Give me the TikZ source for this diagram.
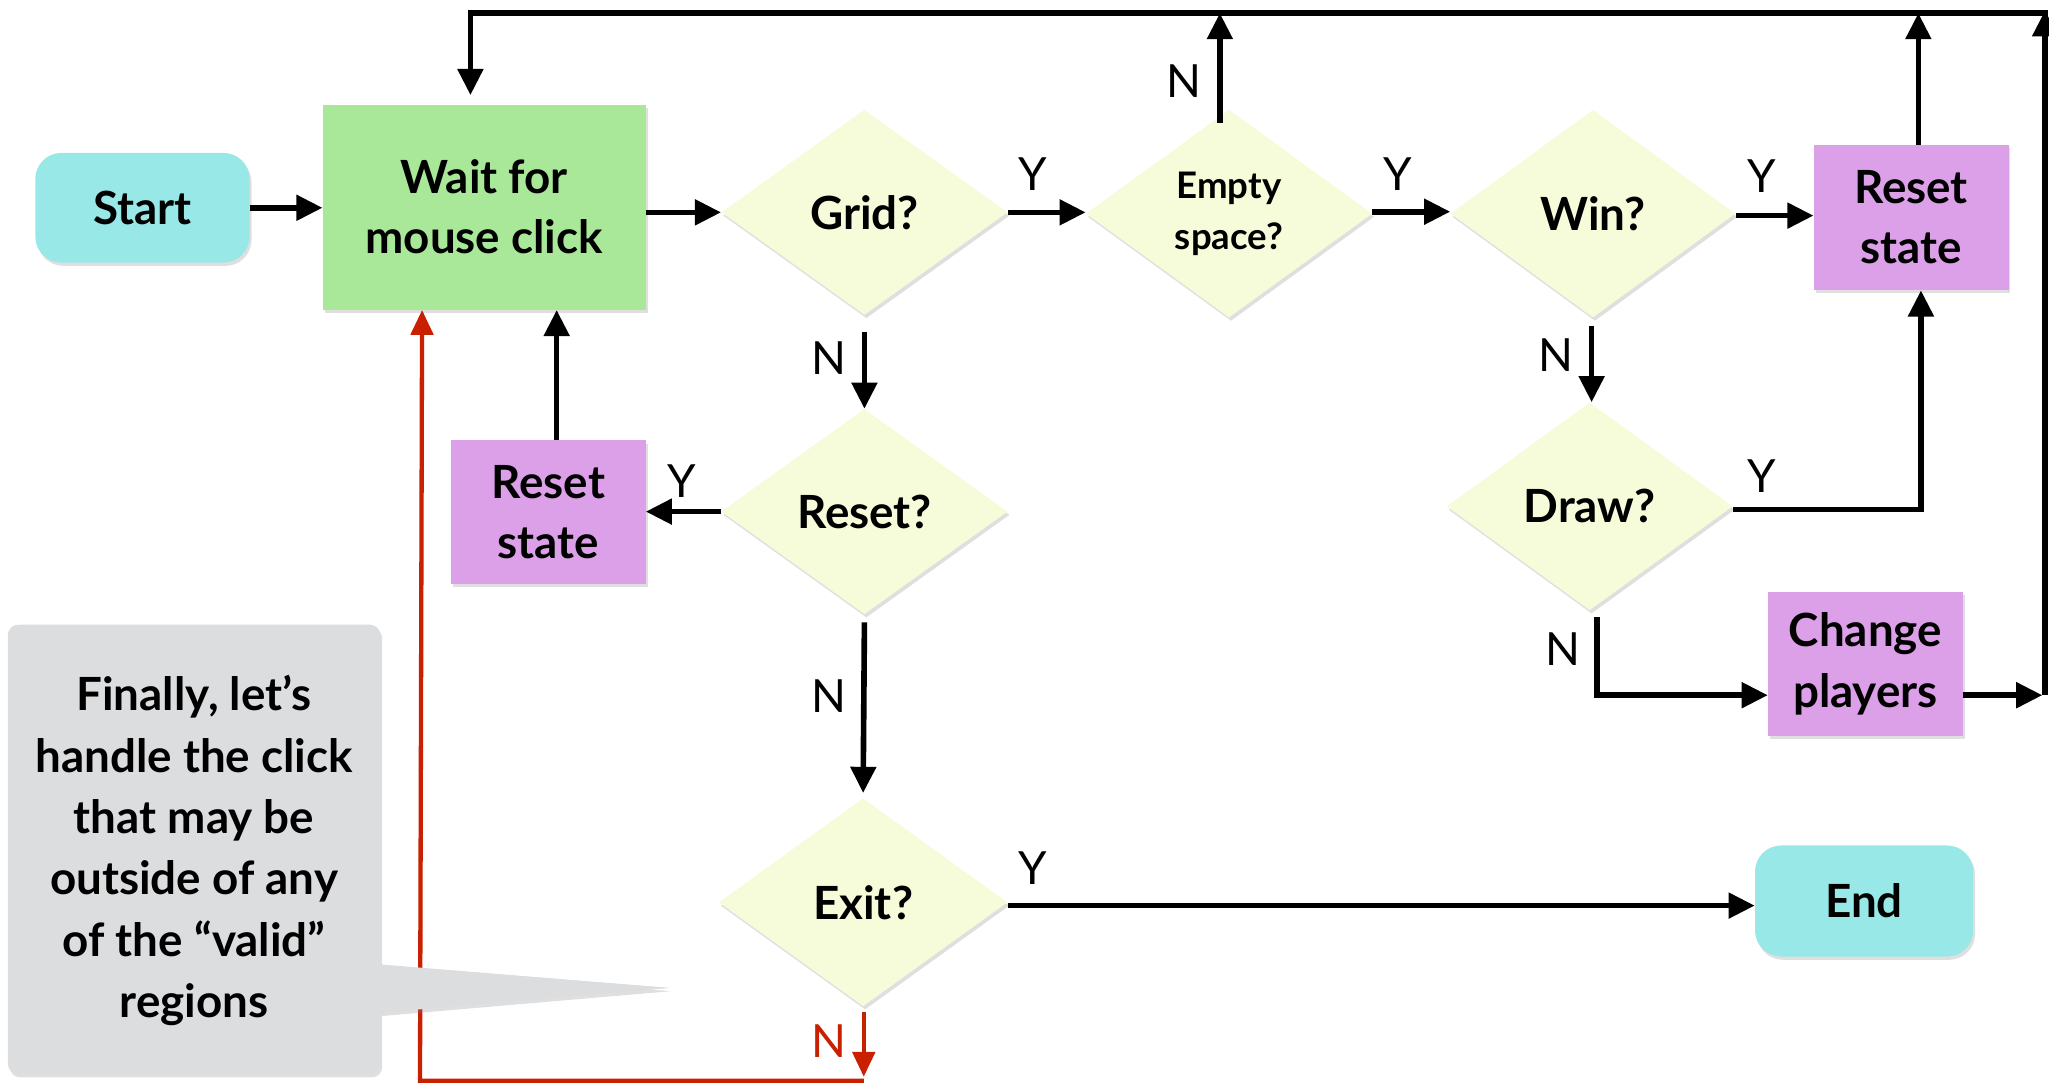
\documentclass[tikz,border=0pt]{standalone}
\usepackage{fontspec}
\setmainfont{Lato}
\usetikzlibrary{arrows.meta,shapes.geometric,shadows,calc}
\definecolor{cyanbox}{RGB}{152,232,232}
\definecolor{greenbox}{RGB}{168,232,152}
\definecolor{yellowbox}{RGB}{246,252,218}
\definecolor{purplebox}{RGB}{220,160,232}
\definecolor{greybox}{RGB}{220,221,223}
\definecolor{redline}{RGB}{200,32,0}
\begin{document}
\begin{tikzpicture}[x=1pt,y=-1pt,
  shad/.style={drop shadow={shadow xshift=1.5pt,shadow yshift=-2.5pt,opacity=0.25}},
  box/.style={draw=none,inner sep=0pt,align=center,shad,
    font=\fontsize{35}{46}\selectfont\bfseries},
  term/.style={box,fill=cyanbox,rounded corners=20pt},
  proc/.style={box,fill=purplebox},
  dec/.style={box,diamond,fill=yellowbox},
  lab/.style={inner sep=0pt,font=\fontsize{35}{35}\selectfont},
  arr/.style={line width=4.3pt,-{Triangle[length=20pt,width=19pt]}},
  plain/.style={line width=4.3pt},
  redarr/.style={line width=3.3pt,draw=redline,-{Triangle[length=19pt,width=17pt]}},
]
\useasboundingbox (0,0) rectangle (1568,830);

% nodes
\node[term,minimum width=164pt,minimum height=84pt] (start) at (109,159) {Start};
\node[box,fill=greenbox,minimum width=247pt,minimum height=157pt] (wait) at (370.5,158.5) {Wait for\\mouse click};
\node[dec,minimum width=219pt,minimum height=157pt] (grid) at (661.5,162.5) {Grid?};
\node[dec,minimum width=219pt,minimum height=159pt,font=\fontsize{28}{39}\selectfont\bfseries] (empty) at (940.5,163.5) {Empty\\space?};
\node[dec,minimum width=218pt,minimum height=159pt] (win) at (1219,163.5) {Win?};
\node[proc,minimum width=149pt,minimum height=111pt] (rs2) at (1462.5,166.5) {Reset\\state};
\node[dec,minimum width=219pt,minimum height=159pt] (drw) at (1216.5,387.5) {Draw?};
\node[proc,minimum width=149pt,minimum height=110pt] (change) at (1427.5,508) {Change\\players};
\node[dec,minimum width=219pt,minimum height=157pt] (reset) at (661.5,391.5) {Reset?};
\node[proc,minimum width=149pt,minimum height=110pt] (rs1) at (419.5,392) {Reset\\state};
\node[dec,minimum width=221pt,minimum height=159pt] (exit) at (660.5,690.5) {Exit?};
\node[term,minimum width=167pt,minimum height=85pt] (end) at (1426.5,689.5) {End};

% coordinates of free ends
\coordinate (tl) at (360,10);
\coordinate (tr) at (1565,10);
\coordinate (br) at (1565,532);
\coordinate (dy) at (1470,390);
\coordinate (dn) at (1222,532);
\coordinate (rc) at (661,827);
\coordinate (lc) at (323,827);
\coordinate (en) at ($(empty.north)+(-7,10)$);
\coordinate (r2n) at ($(rs2.north)+(5.5,0)$);
\coordinate (ws) at ($(win.south)+(-1,6)$);
\coordinate (ds) at ($(drw.south)+(5.5,5)$);
\coordinate (r1n) at ($(rs1.north)+(6.5,0)$);
\coordinate (gs) at ($(grid.south)+(0,13)$);
\coordinate (rss) at ($(reset.south)+(0,6)$);
\coordinate (exn) at ($(exit.north)+(0,-4)$);
\coordinate (exs) at ($(exit.south)+(0.5,4)$);
\coordinate (tla) at ($(wait.north)+(-10.5,-7)$);

% main connectors
\draw[arr] (start.east) -- (wait.west |- start.east);
\draw[arr] (wait.east |- grid.west) -- (grid.west);
\draw[arr] (grid.east) -- (empty.west |- grid.east);
\draw[arr] (empty.east |- 0,162) -- (win.west |- 0,162);
\draw[arr] (win.east |- 0,165) -- (rs2.west |- 0,165);

% top loop
\draw[plain] ($(tr)+(2.15,0)$) -- ($(tl)+(-2.15,0)$);
\draw[arr] (tl) -- (tl |- tla);
\draw[arr] (en) -- (en |- tr);
\draw[arr] (r2n) -- (r2n |- tr);
\draw[arr] (br) -- ($(tr)+(0,-2.1)$);
\draw[arr] (change.east |- br) -- ($(br)+(-2.1,0)$);

% win / draw
\draw[arr] (ws) -- (ws |- drw.north);
\draw[plain] (drw.east |- dy) -- ($(dy)+(2.15,0)$);
\draw[arr] ($(dy)+(0,2.1)$) -- (dy |- rs2.south);
\draw[plain] (ds) -- ($(dn)+(0,2.15)$);
\draw[arr] ($(dn)+(-2.1,0)$) -- (change.west |- dn);

% grid / reset / exit
\draw[arr] (gs) -- (reset.north);
\draw[arr] (reset.west) -- (rs1.east |- reset.west);
\draw[arr] (r1n) -- (r1n |- wait.south);
\draw[arr] (rss) -- (exn);
\draw[arr] (exit.east |- 0,693) -- (end.west |- 0,693);

% red path
\draw[redarr] (exs) -- ($(rc)+(0,-3)$);
\draw[redarr] (rc) -- ($(lc)+(-1.6,0)$) -- (lc |- wait.south);

% labels
\node[lab] (ly1) at (790,133) {Y};
\node[lab] (ly2) at (1070,133) {Y};
\node[lab] (ly3) at (1348,135) {Y};
\node[lab] (ln1) at (906,62) {N};
\node[lab] (ln2) at (1191,272) {N};
\node[lab] (ly4) at (1348,364) {Y};
\node[lab] (ln3) at (1196,497) {N};
\node[lab] (ln4) at (634,274) {N};
\node[lab] (ly5) at (522,368) {Y};
\node[lab] (ln5) at (634,533) {N};
\node[lab] (ly6) at (790,664) {Y};
\node[lab,text=redline] (ln6) at (634,797) {N};

% callout
\fill[greybox,shad] (291,738) -- (512,756) -- (291,775) -- cycle;
\node[draw=none,fill=greybox,rounded corners=8pt,minimum width=285pt,minimum height=344pt,inner sep=0pt,shad] (callout) at (148.5,650) {};
\fill[greybox] (285,738) -- (512,756) -- (285,775) -- cycle;
\node[align=center,inner sep=0pt,font=\fontsize{35}{47}\selectfont\bfseries] (ctext) at (148.5,651) {Finally, let’s\\handle the click\\that may be\\outside of any\\of the “valid”\\regions};
\end{tikzpicture}
\end{document}
